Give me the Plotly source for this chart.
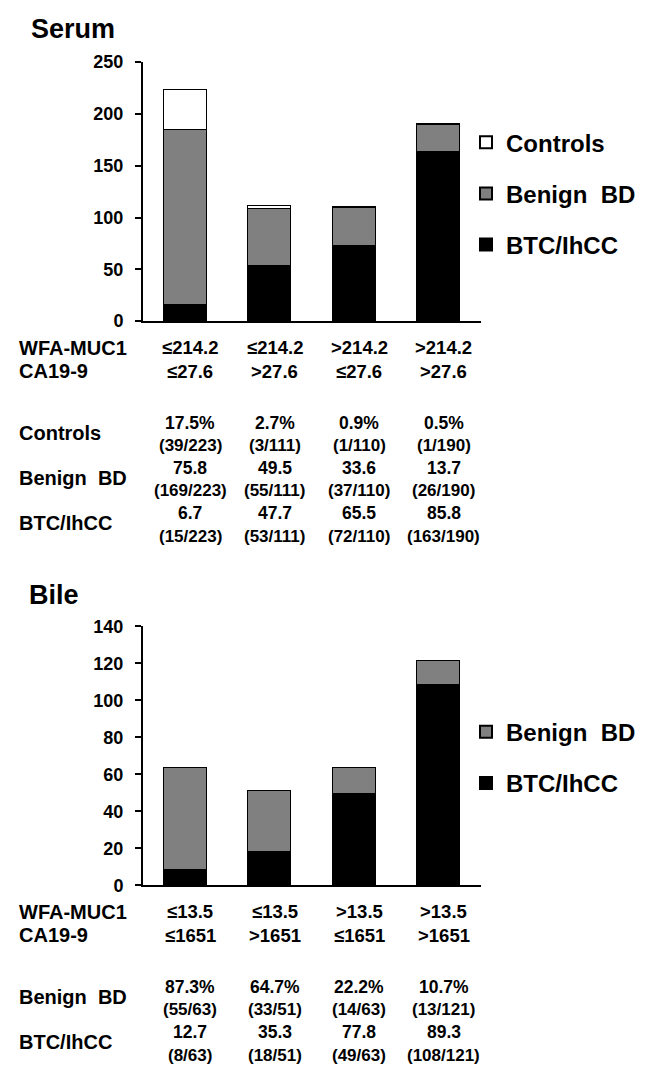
import plotly.graph_objects as go

# body margin of the page is 8px, so the figure is drawn 8px in from each edge
OFF = 8
W, H = 653 - 2 * OFF, 1075 - 2 * OFF - 2

# ---------------- data ----------------
serum_wfa = ["≤214.2", "≤214.2", ">214.2", ">214.2"]
serum_ca = ["≤27.6", ">27.6", "≤27.6", ">27.6"]
serum_controls = [39, 3, 1, 1]
serum_benign = [169, 55, 37, 26]
serum_btc = [15, 53, 72, 163]
serum_total = [223, 111, 110, 190]

bile_wfa = ["≤13.5", "≤13.5", ">13.5", ">13.5"]
bile_ca = ["≤1651", ">1651", "≤1651", ">1651"]
bile_benign = [55, 33, 14, 13]
bile_btc = [8, 18, 49, 108]
bile_total = [63, 51, 63, 121]

cats = [0, 1, 2, 3]
FONT = "Arial, Liberation Sans, sans-serif"


def py(p):
    return 1 - (p - OFF) / H


def px(p):
    return (p - OFF) / W


fig = go.Figure()
line = dict(color="black", width=1.5)
bw = 0.51

# Serum bars (bottom to top)
fig.add_trace(go.Bar(x=cats, y=serum_btc, name="BTC/IhCC", marker=dict(color="black", line=line),
                     width=bw, xaxis="x", yaxis="y", legend="legend", legendgroup="s3", legendrank=3))
fig.add_trace(go.Bar(x=cats, y=serum_benign, name="Benign\u00a0 BD", marker=dict(color="#808080", line=line),
                     width=bw, xaxis="x", yaxis="y", legend="legend", legendgroup="s2", legendrank=2))
fig.add_trace(go.Bar(x=cats, y=serum_controls, name="Controls", marker=dict(color="white", line=line),
                     width=bw, xaxis="x", yaxis="y", legend="legend", legendgroup="s1", legendrank=1))
# Bile bars
fig.add_trace(go.Bar(x=cats, y=bile_btc, name="BTC/IhCC", marker=dict(color="black", line=line),
                     width=bw, xaxis="x2", yaxis="y2", legend="legend2", legendgroup="b2", legendrank=2))
fig.add_trace(go.Bar(x=cats, y=bile_benign, name="Benign\u00a0 BD", marker=dict(color="#808080", line=line),
                     width=bw, xaxis="x2", yaxis="y2", legend="legend2", legendgroup="b1", legendrank=1))

xdom = [px(143), px(481)]
axis_common = dict(showline=True, linecolor="black", linewidth=2, showgrid=False, zeroline=False)
xa = dict(domain=xdom, range=[-0.5, 3.5], showticklabels=False, ticks="", **axis_common)
ya = dict(ticks="outside", ticklen=6, tickwidth=2, tickcolor="black",
          tickfont=dict(family=FONT, size=18, color="black", weight="bold"),
          ticklabelstandoff=8, **axis_common)

leg = dict(font=dict(family=FONT, size=24, color="black", weight="bold"),
           traceorder="grouped", tracegroupgap=17, bgcolor="rgba(0,0,0,0)",
           xanchor="left", yanchor="middle", itemsizing="constant")

fig.update_layout(
    width=W, height=H,
    margin=dict(l=0, r=0, t=0, b=0),
    plot_bgcolor="white", paper_bgcolor="white",
    barmode="stack", bargap=0,
    font=dict(family=FONT, color="black"),
    xaxis=dict(anchor="y", **xa),
    yaxis=dict(anchor="x", domain=[py(317), py(53)], range=[0, 250], dtick=50, **ya),
    xaxis2=dict(anchor="y2", **xa),
    yaxis2=dict(anchor="x2", domain=[py(892), py(628)], range=[0, 140], dtick=20, **ya),
    legend=dict(x=px(466), y=py(187), **leg),
    legend2=dict(x=px(466), y=py(762), **leg),
)

ann = []


def add_text(text, x, y, size, xref="paper", xanchor="center"):
    ann.append(dict(text=text, x=x, y=y, xref=xref, yref="paper", xanchor=xanchor, yanchor="middle",
                    showarrow=False, font=dict(family=FONT, size=size, color="black", weight="bold")))


LX = px(17)
# titles
add_text("Serum", px(29), py(19), 27, xanchor="left")
add_text("Bile", px(27), py(596), 27, xanchor="left")

CO = 0.06  # table columns sit slightly right of bar centres


def table(xref, wfa, ca, rows, y0):
    add_text("WFA-MUC1", LX, py(y0), 20, xanchor="left")
    add_text("CA19-9", LX, py(y0 + 24), 20, xanchor="left")
    for i in cats:
        add_text(wfa[i], i + CO, py(y0), 18.5, xref=xref)
        add_text(ca[i], i + CO, py(y0 + 24), 18.5, xref=xref)
    ybase = y0 + 77
    for r, (label, counts, totals) in enumerate(rows):
        yp = ybase + 46 * r
        add_text(label, LX, py(yp + 10), 20, xanchor="left")
        for i in cats:
            pct = f"{round(counts[i] / totals[i] * 100 + 1e-9, 1):.1f}"
            if r == 0:
                pct += "%"
            add_text(pct, i + CO, py(yp), 17.5, xref=xref)
            add_text(f"({counts[i]}/{totals[i]})", i + CO, py(yp + 23), 17, xref=xref)


table("x", serum_wfa, serum_ca,
      [("Controls", serum_controls, serum_total),
       ("Benign\u00a0 BD", serum_benign, serum_total),
       ("BTC/IhCC", serum_btc, serum_total)], 344)
table("x2", bile_wfa, bile_ca,
      [("Benign\u00a0 BD", bile_benign, bile_total),
       ("BTC/IhCC", bile_btc, bile_total)], 919)

fig.update_layout(annotations=ann)
fig.write_html("out.html")
